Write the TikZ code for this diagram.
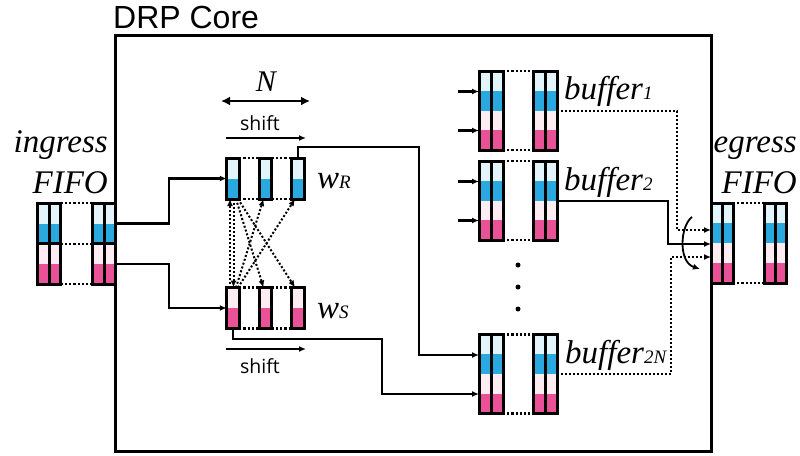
\documentclass[tikz,border=0pt]{standalone}
\usepackage{fontspec}
\setmainfont{Liberation Serif}
\setsansfont{Liberation Sans}
\newfontfamily\shiftfont{Open Sans}
\usetikzlibrary{arrows.meta,calc}
\definecolor{lb}{RGB}{228,244,251}
\definecolor{db}{RGB}{41,169,224}
\definecolor{lp}{RGB}{253,237,243}
\definecolor{dp}{RGB}{234,82,152}
\newcommand\subsz{\fontsize{19}{19}\selectfont}
\tikzset{
  cellbase/.style={draw, line width=3pt, inner sep=0pt, outer sep=0pt},
  twoband/.style 2 args={path picture={
    \fill[#1] (path picture bounding box.north west) rectangle (path picture bounding box.east);
    \fill[#2] (path picture bounding box.west) rectangle (path picture bounding box.south east);}},
  fourband/.style={path picture={
    \fill[lb] (path picture bounding box.north west) rectangle ($(path picture bounding box.north east)!.25!(path picture bounding box.south east)$);
    \fill[db] ($(path picture bounding box.north west)!.25!(path picture bounding box.south west)$) rectangle (path picture bounding box.east);
    \fill[lp] (path picture bounding box.west) rectangle ($(path picture bounding box.north east)!.75!(path picture bounding box.south east)$);
    \fill[dp] ($(path picture bounding box.north west)!.75!(path picture bounding box.south west)$) rectangle (path picture bounding box.south east);}},
  halfcol/.style={cellbase, minimum width=11.5pt, minimum height=40.5pt},
  bufcol/.style={cellbase, fourband, minimum width=12pt, minimum height=79pt},
  egcol/.style={cellbase, fourband, minimum width=11pt, minimum height=80pt},
  wcell/.style={cellbase, minimum width=12.5pt, minimum height=41pt},
  dotline/.style={line width=2.2pt, dash pattern=on 2.2pt off 2pt},
  conn/.style={line width=2.2pt, -{Latex[length=7pt,width=6pt]}},
  dotconn/.style={line width=2pt, dash pattern=on 2pt off 2pt, -{Latex[length=7pt,width=6pt]}},
  lab/.style={font=\itshape\fontsize{33}{33}\selectfont, inner sep=0pt},
  shiftlab/.style={font=\shiftfont\fontsize{19.5}{19.5}\selectfont, inner sep=0pt},
  dotnode/.style={circle, fill, inner sep=0pt, minimum size=5pt},
}
\begin{document}
\begin{tikzpicture}[x=1pt,y=-1pt]
\useasboundingbox (0,0) rectangle (800,455);
% core box
\node[draw, line width=3pt, inner sep=0pt, minimum width=596pt, minimum height=416pt] (core) at (413,243) {};
\node[anchor=base west, inner sep=0pt, font=\sffamily\fontsize{32}{32}\selectfont] (title) at (113,28) {DRP Core};

% ingress FIFO
\foreach \n/\x in {A/43.5,B/55,C/98.5,D/110}{
  \node[halfcol, twoband={lb}{db}] (in\n t) at (\x,223.5) {};
  \node[halfcol, twoband={lp}{dp}] (in\n b) at (\x,264) {};
}
\draw[dotline] (inBt.north east) -- (inCt.north west);
\draw[dotline] (inBt.south east) -- (inCt.south west);
\draw[dotline] (inBb.south east) -- (inCb.south west);
\node[lab, anchor=base east] (ing1) at (108,152) {ingress};
\node[lab, anchor=base east] (ing2) at (108,193) {FIFO};

% w cells
\foreach \n/\x in {1/233,2/265.5,3/298}{
  \node[wcell, twoband={lb}{db}] (wR\n) at (\x,178.5) {};
  \node[wcell, twoband={lp}{dp}] (wS\n) at (\x,308) {};
}
\foreach \a/\b in {1/2,2/3}{
  \draw[dotline] (wR\a.north east) -- (wR\b.north west);
  \draw[dotline] (wR\a.south east) -- (wR\b.south west);
  \draw[dotline] (wS\a.north east) -- (wS\b.north west);
  \draw[dotline] (wS\a.south east) -- (wS\b.south west);
}
\node[lab, anchor=base west] (wRl) at (317,188.5) {w{\subsz R}};
\node[lab, anchor=base west] (wSl) at (317,318) {w{\subsz S}};

% N and shift
\coordinate (nL) at (221,101);
\coordinate (nR) at (310,101);
\draw[line width=2.8pt, {Latex[length=9pt,width=9pt]}-{Latex[length=9pt,width=9pt]}] (nL) -- (nR);
\node[font=\itshape\fontsize{30}{30}\selectfont, inner sep=0pt, anchor=base] (Nl) at (266,91) {N};
\node[shiftlab, anchor=base] (sh1) at (260,130) {shift};
\coordinate (s1L) at (226,138);
\coordinate (s1R) at (306,138);
\draw[conn] (s1L) -- (s1R);
\node[shiftlab, anchor=base] (sh2) at (260,373) {shift};
\coordinate (s2L) at (226,349);
\coordinate (s2R) at (306,349);
\draw[conn] (s2L) -- (s2R);

% crossing dotted arrows
\draw[dotconn] ([xshift=-3pt]wS1.north) -- ([xshift=-3pt]wR1.south);
\draw[dotconn] ([xshift=0.5pt]wR1.south) -- ([xshift=0.5pt]wS1.north);
\draw[dotconn] ([xshift=3pt]wR1.south) -- ([xshift=-2pt]wS2.north);
\draw[dotconn] ([xshift=5pt]wR1.south) -- ([xshift=-3pt]wS3.north);
\draw[dotconn] ([xshift=3pt]wS1.north) -- ([xshift=-2pt]wR2.south);
\draw[dotconn] ([xshift=5pt]wS1.north) -- ([xshift=-3pt]wR3.south);

% buffers
\foreach \b/\y in {1/110.5,2/200.5,N/374}{
  \node[bufcol] (b\b a) at (485,\y) {};
  \node[bufcol] (b\b b) at (497,\y) {};
  \node[bufcol] (b\b c) at (539,\y) {};
  \node[bufcol] (b\b d) at (551,\y) {};
  \draw[dotline] (b\b b.north east) -- (b\b c.north west);
  \draw[dotline] (b\b b.south east) -- (b\b c.south west);
}
\foreach \b in {1,2}{
  \draw[conn] ([xshift=-21pt,yshift=19pt]b\b a.west) -- ([yshift=19pt]b\b a.west);
  \draw[conn] ([xshift=-21pt,yshift=-20pt]b\b a.west) -- ([yshift=-20pt]b\b a.west);
}
\node[lab, anchor=base west] (b1l) at (564,99) {buffer{\subsz 1}};
\node[lab, anchor=base west] (b2l) at (564,190) {buffer{\subsz 2}};
\node[lab, anchor=base west] (bNl) at (565,363) {buffer{\subsz 2N}};
\node[dotnode] (dt1) at (518,265) {};
\node[dotnode] (dt2) at (518,287) {};
\node[dotnode] (dt3) at (518,309) {};

% egress FIFO
\node[egcol] (e1) at (716.5,243) {};
\node[egcol] (e2) at (727.5,243) {};
\node[egcol] (e3) at (769.5,243) {};
\node[egcol] (e4) at (780.5,243) {};
\draw[dotline] (e2.north east) -- (e3.north west);
\draw[dotline] (e2.south east) -- (e3.south west);
\node[lab, anchor=base east] (eg1) at (797,152) {egress};
\node[lab, anchor=base east] (eg2) at (797,193) {FIFO};

% ingress to w
\draw[conn] (inDt.east) -- ++(53,0) |- (wR1.west);
\draw[conn] (inDb.east) -- ++(53,0) |- (wS1.west);

% w to buffer 2N
\draw[conn] (wR3.north) |- (419,147) |- ([yshift=19pt]bNa.west);
\draw[conn] (wS1.south) |- (382,339) |- ([yshift=-20pt]bNa.west);

% buffers to egress
\draw[dotconn] (b1d.east) -| ([xshift=-34pt,yshift=13pt]e1.west) -- ([yshift=13pt]e1.west);
\draw[conn] ([yshift=-0.5pt]b2d.east) -| ([xshift=-43pt,yshift=-1pt]e1.west) -- ([yshift=-1pt]e1.west);
\draw[dotconn] (bNd.east) -| ([xshift=-40pt,yshift=-14pt]e1.west) -- ([yshift=-14pt]e1.west);

% selector
\coordinate (selA) at (692,217);
\coordinate (selB) at (700,269);
\draw[conn, line width=1.8pt] (selA) .. controls (680,226) and (678,262) .. (selB);
\end{tikzpicture}
\end{document}
